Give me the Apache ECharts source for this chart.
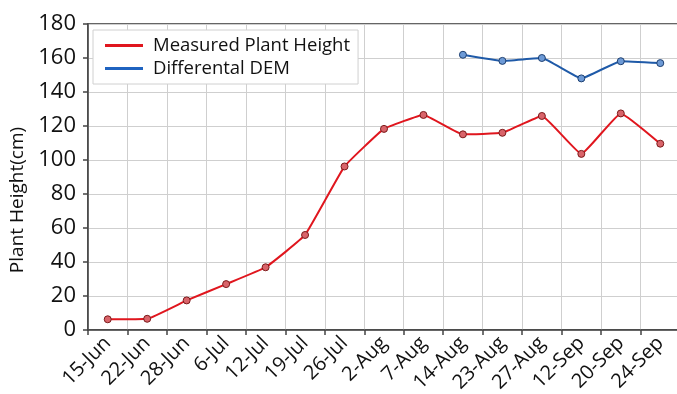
<!DOCTYPE html>
<html>
<head>
<meta charset="utf-8">
<script src="https://cdn.jsdelivr.net/npm/echarts@6/dist/echarts.min.js"></script>
<style>
  html, body { margin: 0; padding: 0; background: #fff; }
  #chart { width: 677px; height: 394px; }
</style>
</head>
<body>
<div id="chart"></div>
<script>
// Sampling dates
const dates = ['15-Jun', '22-Jun', '28-Jun', '6-Jul', '12-Jul', '19-Jul', '26-Jul', '2-Aug',
  '7-Aug', '14-Aug', '23-Aug', '27-Aug', '12-Sep', '20-Sep', '24-Sep'];

// Plant height measured in the field (cm)
const measuredHeight = [6.3, 6.6, 17.4, 27.0, 36.9, 55.9, 96.2, 118.3,
  126.5, 115.1, 116.0, 125.9, 103.6, 127.4, 109.6];

// Plant height from the differential DEM (cm), available from 14-Aug onward
const demHeight = [null, null, null, null, null, null, null, null,
  null, 161.9, 158.3, 160.0, 148.0, 158.1, 157.0];

const yTicks = { min: 0, max: 180, interval: 20 };

const font = '"Open Sans", "Noto Sans", sans-serif';
const red = '#e0161e';
const blue = '#1f5aa8';

const chart = echarts.init(document.getElementById('chart'));
chart.setOption({
  animation: false,
  grid: {
    left: 88, width: 592, top: 24, bottom: 64,
    outerBoundsMode: 'none',
    show: true, borderColor: '#333', borderWidth: 1.5, backgroundColor: 'transparent'
  },
  legend: {
    left: 93, top: 30,
    orient: 'vertical',
    backgroundColor: '#fff',
    borderColor: '#d0d0d0', borderWidth: 1,
    padding: [6, 8, 6, 12],
    itemGap: 4,
    itemWidth: 38, itemHeight: 3,
    icon: 'rect',
    textStyle: { fontFamily: font, fontSize: 18.5, color: '#111', padding: [0, 0, 0, 5] },
    data: [
      { name: 'Measured Plant Height', itemStyle: { color: red, borderWidth: 0 } },
      { name: 'Differental DEM', itemStyle: { color: '#1f63c0', borderWidth: 0 } }
    ]
  },
  xAxis: {
    type: 'category',
    data: dates,
    boundaryGap: true,
    axisLine: { lineStyle: { color: '#444', width: 1.5 } },
    axisTick: { show: true, length: 5, lineStyle: { color: '#444', width: 1.5 } },
    splitLine: { show: true, lineStyle: { color: '#cfcfcf', width: 1 } },
    axisLabel: {
      rotate: 45, interval: 0, margin: 10,
      fontFamily: font, fontSize: 20, color: '#111'
    }
  },
  yAxis: {
    type: 'value',
    min: yTicks.min, max: yTicks.max, interval: yTicks.interval,
    name: 'Plant Height(cm)',
    nameLocation: 'middle',
    nameGap: 53,
    nameTextStyle: { fontFamily: font, fontSize: 19, color: '#111', padding: [0, 46, 0, 0] },
    axisLine: { show: true, lineStyle: { color: '#444', width: 1.5 } },
    axisTick: { show: true, length: 5, lineStyle: { color: '#444', width: 1.5 } },
    splitLine: { show: true, lineStyle: { color: '#cfcfcf', width: 1 } },
    axisLabel: { fontFamily: font, fontSize: 22, color: '#111', margin: 12 }
  },
  series: [
    {
      name: 'Measured Plant Height',
      type: 'line',
      data: measuredHeight,
      smooth: 0.1,
      symbol: 'circle', symbolSize: 7,
      lineStyle: { color: red, width: 2 },
      itemStyle: { color: '#d9646a', borderColor: '#7a1a1a', borderWidth: 1 }
    },
    {
      name: 'Differental DEM',
      type: 'line',
      data: demHeight,
      smooth: 0.1,
      symbol: 'circle', symbolSize: 7,
      lineStyle: { color: blue, width: 2 },
      itemStyle: { color: '#6d9ad6', borderColor: '#1d3f70', borderWidth: 1 }
    }
  ]
});
</script>
</body>
</html>
